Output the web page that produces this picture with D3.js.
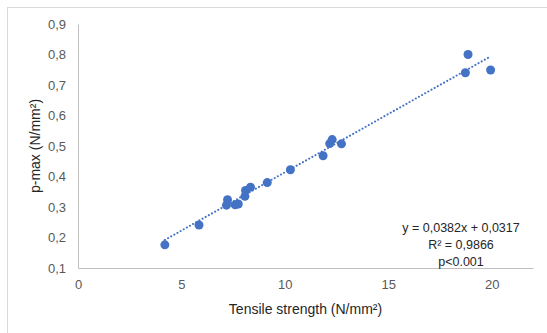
<!DOCTYPE html>
<html>
<head>
<meta charset="utf-8">
<script src="https://cdn.jsdelivr.net/npm/d3@7"></script>
<style>
  body { margin: 0; background: #fff; overflow: hidden; }
  text { font-family: "Liberation Sans", Arial, sans-serif; }
</style>
</head>
<body>
<div id="chart"></div>
<script>
(function(){

  var width = 547;
  var height = 333;

  // tensile strength (N/mm2) and p-max (N/mm2)
  var strength = [4.2, 5.85, 7.23, 7.18, 7.6, 7.75, 8.07, 8.1, 8.34, 9.15, 10.27, 11.85, 12.17, 12.29, 12.74, 18.86, 18.73, 19.95];
  var pmax     = [0.176, 0.241, 0.324, 0.306, 0.307, 0.31, 0.335, 0.354, 0.365, 0.38, 0.422, 0.468, 0.508, 0.521, 0.507, 0.8, 0.74, 0.749];

  var xTicks = [0, 5, 10, 15, 20];
  var yTicks = [0.1, 0.2, 0.3, 0.4, 0.5, 0.6, 0.7, 0.8, 0.9];

  var slope = 0.0382;
  var intercept = 0.0317;
  var statLines = ['y = 0,0382x + 0,0317', 'R\u00b2 = 0,9866', 'p<0.001'];

  var points = strength.map(function(s, i){ return {x: s, y: pmax[i]}; });

  var margin = {left: 78, right: 14, top: 24, bottom: 65};

  var x = d3.scaleLinear().domain([0, 22]).range([margin.left, width - margin.right]);
  var y = d3.scaleLinear().domain([0.1, 0.9]).range([height - margin.bottom, margin.top]);

  var comma = function(v){ return d3.format('.1f')(v).replace('.', ','); };

  var svg = d3.select('#chart')
        .append('svg')
        .attr('width', width)
        .attr('height', height);

  // chart border (only top and left edges fall inside the picture)
  svg.append('rect')
    .attr('x', 7.5).attr('y', 7.5)
    .attr('width', width + 20).attr('height', height + 20)
    .attr('fill', 'none')
    .attr('stroke', '#d9d9d9');

  // x axis
  var xAxis = svg.append('g')
    .attr('transform', 'translate(0,' + y(0.1) + ')')
    .call(d3.axisBottom(x).tickValues(xTicks).tickSize(0).tickPadding(12));
  xAxis.select('.domain').attr('stroke', '#bfbfbf');

  // y axis
  var yAxis = svg.append('g')
    .attr('transform', 'translate(' + x(0) + ',0)')
    .call(d3.axisLeft(y).tickValues(yTicks).tickSize(0).tickPadding(12).tickFormat(comma));
  yAxis.select('.domain').attr('stroke', '#bfbfbf');

  svg.selectAll('.tick text')
    .attr('font-size', '13px')
    .attr('font-family', '"Liberation Sans", Arial, sans-serif')
    .attr('fill', '#595959');

  // trend line
  var xr = d3.extent(strength);
  svg.append('line')
    .attr('x1', x(xr[0])).attr('y1', y(slope * xr[0] + intercept))
    .attr('x2', x(xr[1])).attr('y2', y(slope * xr[1] + intercept))
    .attr('stroke', '#4472c4')
    .attr('stroke-width', 2)
    .attr('stroke-linecap', 'round')
    .attr('stroke-dasharray', '0.1,3.5');

  // points
  svg.selectAll('circle.pt')
    .data(points)
    .enter()
    .append('circle')
      .attr('class', 'pt')
      .attr('cx', function(d){ return x(d.x); })
      .attr('cy', function(d){ return y(d.y); })
      .attr('r', 4.5)
      .attr('fill', '#4472c4');

  // regression stats
  svg.selectAll('text.stat')
    .data(statLines)
    .enter()
    .append('text')
      .attr('class', 'stat')
      .attr('x', 461)
      .attr('y', function(d, i){ return 232 + i * 17; })
      .attr('text-anchor', 'middle')
      .attr('font-size', '12.5px')
      .attr('fill', '#262626')
      .text(function(d){ return d; });

  // axis titles
  svg.append('text')
    .attr('x', (x.range()[0] + x.range()[1]) / 2)
    .attr('y', 314)
    .attr('text-anchor', 'middle')
    .attr('font-size', '14px')
    .attr('fill', '#262626')
    .text('Tensile strength (N/mm\u00b2)');

  svg.append('text')
    .attr('transform', 'translate(40,' + (y.range()[0] + y.range()[1]) / 2 + ') rotate(-90)')
    .attr('text-anchor', 'middle')
    .attr('font-size', '14px')
    .attr('fill', '#262626')
    .text('p-max (N/mm\u00b2)');

})();
</script>
</body>
</html>
